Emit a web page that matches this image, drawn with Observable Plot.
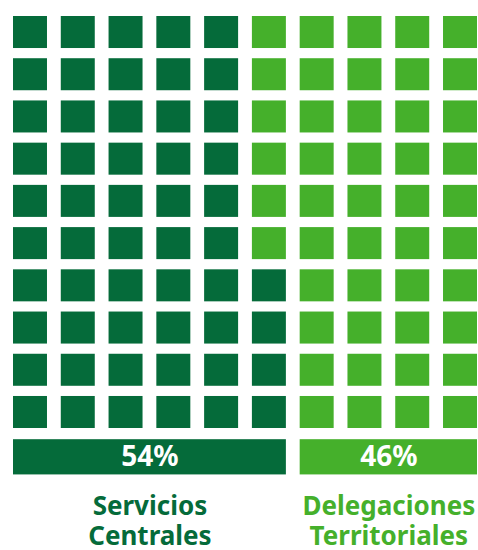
<!DOCTYPE html>
<html>
<head>
<meta charset="utf-8">
<script src="https://cdn.jsdelivr.net/npm/d3@7"></script>
<script src="https://cdn.jsdelivr.net/npm/@observablehq/plot@0.6"></script>
<style>
  html, body { margin: 0; padding: 0; background: #fff; }
</style>
</head>
<body>
<div id="chart"></div>
<script>
// ---- data ----
const categories = ["Servicios Centrales", "Delegaciones Territoriales"];
const labelLine1 = ["Servicios", "Delegaciones"];
const labelLine2 = ["Centrales", "Territoriales"];
const values = [54, 46];
const pctLabels = ["54%", "46%"];
const colors = ["#056b3a", "#45b02b"];

// ---- derived tables ----
const nCols = 10, nRows = 10;
const cells = [];
let idx = 0;
categories.forEach((c, ci) => {
  for (let k = 0; k < values[ci]; k++, idx++) {
    const col = Math.floor(idx / nRows);
    const row = nRows - 1 - (idx % nRows);
    cells.push({category: c, col, row});
  }
});
let start = 0;
const bars = categories.map((c, ci) => {
  const end = ci === categories.length - 1 ? nCols : Math.ceil((start * nRows + values[ci]) / nRows);
  const b = {category: c, x1: start, x2: end, label: pctLabels[ci], line1: labelLine1[ci], line2: labelLine2[ci]};
  start = end;
  return b;
});

const colGap = 13.8, rowGap = 10.2;
const font = "'Noto Sans', 'Open Sans', sans-serif";
const nameStyle = {
  x: d => (d.x1 + d.x2) / 2, dx: -colGap / 2,
  fill: "category",
  fontSize: 26,
  fontWeight: "bold",
  fontFamily: font,
  lineAnchor: "middle"
};

const chart = Plot.plot({
  width: 478,
  height: 550,
  margin: 0,
  style: {background: "#fff", fontFamily: font},
  x: {type: "linear", domain: [0, nCols], range: [13, 477 + colGap], axis: null},
  y: {type: "linear", domain: [0, nRows], range: [16, 438.2], axis: null},
  color: {domain: categories, range: colors},
  marks: [
    Plot.rect(cells, {
      x1: "col", x2: d => d.col + 1,
      y1: "row", y2: d => d.row + 1,
      fill: "category",
      insetRight: colGap, insetBottom: rowGap
    }),
    Plot.rect(bars, {
      x1: "x1", x2: "x2",
      y1: () => nRows, y2: () => nRows + 1,
      fill: "category",
      insetRight: colGap, insetTop: 1, insetBottom: 6
    }),
    Plot.text(bars, {
      x: d => (d.x1 + d.x2) / 2, dx: -colGap / 2,
      y: () => nRows + 0.43,
      text: "label",
      fill: "white",
      fontSize: 28,
      fontWeight: "bold",
      fontFamily: font,
      lineAnchor: "middle"
    }),
    Plot.text(bars, {...nameStyle, y: () => nRows + 1.6, text: "line1"}),
    Plot.text(bars, {...nameStyle, y: () => nRows + 2.32, text: "line2"})
  ]
});
document.getElementById("chart").appendChild(chart);
</script>
</body>
</html>
